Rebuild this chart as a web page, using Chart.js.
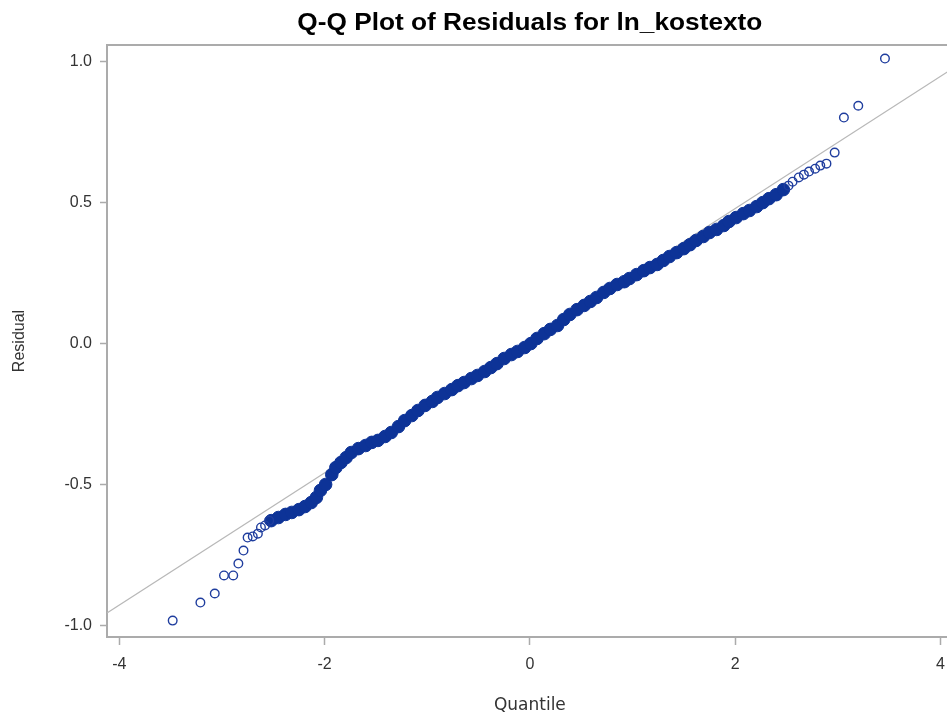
<!DOCTYPE html>
<html>
<head>
<meta charset="utf-8">
<script src="https://cdn.jsdelivr.net/npm/chart.js@4.4.1/dist/chart.umd.min.js"></script>
<style>
  html, body { margin: 0; padding: 0; background: #fff; overflow: hidden; }
  #wrap { width: 960px; height: 713px; }
</style>
</head>
<body>
<div id="wrap"><canvas id="qq"></canvas></div>
<script>
// normal quantiles and residuals, dense middle part of the sample
const bandQuantile = [
  -2.52, -2.45, -2.38, -2.32, -2.25, -2.19, -2.13, -2.08, -2.04, -1.99,
  -1.93, -1.89, -1.84, -1.79, -1.74, -1.67, -1.60, -1.54, -1.48, -1.41,
  -1.35, -1.28, -1.22, -1.15, -1.09, -1.02, -0.95, -0.90, -0.83, -0.76,
  -0.70, -0.64, -0.57, -0.51, -0.44, -0.38, -0.32, -0.25, -0.18, -0.12,
  -0.05, 0.01, 0.07, 0.14, 0.20, 0.27, 0.33, 0.39, 0.46, 0.53,
  0.59, 0.65, 0.72, 0.78, 0.85, 0.92, 0.97, 1.04, 1.11, 1.17,
  1.24, 1.30, 1.36, 1.43, 1.50, 1.56, 1.62, 1.69, 1.75, 1.82,
  1.89, 1.94, 2.01, 2.08, 2.14, 2.21, 2.27, 2.33, 2.40, 2.47
];
const bandResidual = [
  -0.627, -0.616, -0.605, -0.598, -0.588, -0.577, -0.563, -0.545, -0.520, -0.499,
  -0.464, -0.439, -0.421, -0.404, -0.386, -0.372, -0.361, -0.350, -0.343, -0.329,
  -0.315, -0.294, -0.273, -0.255, -0.237, -0.219, -0.205, -0.191, -0.177, -0.163,
  -0.149, -0.138, -0.124, -0.113, -0.099, -0.085, -0.071, -0.053, -0.039, -0.028,
  -0.014, 0.000, 0.018, 0.035, 0.050, 0.064, 0.085, 0.103, 0.120, 0.135,
  0.149, 0.163, 0.181, 0.195, 0.209, 0.219, 0.230, 0.244, 0.258, 0.269,
  0.280, 0.294, 0.308, 0.322, 0.336, 0.350, 0.365, 0.379, 0.393, 0.404,
  0.418, 0.432, 0.446, 0.460, 0.471, 0.485, 0.499, 0.513, 0.527, 0.545
];

// the sparse points at both ends
const tailQuantile = [
  -3.48, -3.21, -3.07, -2.98, -2.89, -2.84, -2.79, -2.75, -2.70, -2.65, -2.62, -2.58, -2.54,
  2.52, 2.56, 2.62, 2.67, 2.72, 2.78, 2.83, 2.89, 2.97, 3.06, 3.20, 3.46
];
const tailResidual = [
  -0.981, -0.917, -0.885, -0.821, -0.821, -0.779, -0.733, -0.687, -0.683, -0.673, -0.651, -0.644, -0.627,
  0.559, 0.573, 0.588, 0.598, 0.609, 0.619, 0.630, 0.637, 0.676, 0.800, 0.842, 1.009
];

// reference line end points
const lineQuantile = [-4.12, 4.12];
const lineResidual = [-0.954, 0.974];

const xTicks = [-4, -2, 0, 2, 4];
const yTicks = [-1.0, -0.5, 0.0, 0.5, 1.0];

const titleText = 'Q-Q Plot of Residuals for ln_kostexto';

const toPoints = (xs, ys) => xs.map((x, i) => ({ x: x, y: ys[i] }));

const blue = '#1f3d9e';
const frameGray = '#ababab';
const textColor = '#333333';

// box round the plot area
const framePlugin = {
  id: 'frame',
  beforeDatasetsDraw(chart) {
    const a = chart.chartArea;
    const ctx = chart.ctx;
    ctx.save();
    ctx.strokeStyle = frameGray;
    ctx.lineWidth = 2;
    ctx.strokeRect(a.left, a.top, a.right - a.left, a.bottom - a.top);
    ctx.restore();
  }
};

// title centred over the plot area, set a bit wide
const titlePlugin = {
  id: 'plotTitle',
  afterDraw(chart) {
    const a = chart.chartArea;
    const ctx = chart.ctx;
    ctx.save();
    ctx.font = 'bold 23px "Liberation Sans"';
    ctx.fillStyle = '#000';
    ctx.textAlign = 'center';
    ctx.textBaseline = 'middle';
    const w = ctx.measureText(titleText).width;
    ctx.translate((a.left + a.right) / 2, 23.5);
    ctx.scale(465 / w, 1);
    ctx.fillText(titleText, 0, 0);
    ctx.restore();
  }
};

new Chart(document.getElementById('qq'), {
  type: 'scatter',
  data: {
    datasets: [
      {
        type: 'line',
        data: toPoints(lineQuantile, lineResidual),
        borderColor: '#b8b8b8',
        borderWidth: 1.2,
        pointRadius: 0,
        fill: false,
        order: 3
      },
      {
        data: toPoints(bandQuantile, bandResidual),
        borderColor: '#0d3397',
        backgroundColor: '#0d3397',
        pointRadius: 6.3,
        borderWidth: 1,
        order: 2
      },
      {
        data: toPoints(tailQuantile, tailResidual),
        borderColor: blue,
        backgroundColor: 'rgba(0,0,0,0)',
        pointRadius: 4.3,
        borderWidth: 1.4,
        order: 1
      }
    ]
  },
  options: {
    responsive: true,
    maintainAspectRatio: false,
    animation: false,
    layout: { padding: { top: 45 } },
    plugins: {
      legend: { display: false },
      tooltip: { enabled: false },
      title: { display: false }
    },
    scales: {
      x: {
        type: 'linear',
        min: -4.12,
        max: 4.12,
        afterFit(s) { s.height = 76; },
        afterBuildTicks(s) { s.ticks = xTicks.map(v => ({ value: v })); },
        border: { display: false },
        grid: { drawOnChartArea: false, tickLength: 8, tickColor: frameGray, tickWidth: 1.5 },
        ticks: {
          padding: 10,
          color: textColor,
          font: { family: 'Liberation Sans', size: 16 },
          callback: v => String(v)
        },
        title: {
          display: true,
          text: 'Quantile',
          color: textColor,
          font: { family: 'DejaVu Sans', size: 17 },
          padding: { top: 0, bottom: -3 }
        }
      },
      y: {
        type: 'linear',
        min: -1.039,
        max: 1.057,
        afterFit(s) { s.width = 107; },
        afterBuildTicks(s) { s.ticks = yTicks.map(v => ({ value: v })); },
        border: { display: false },
        grid: { drawOnChartArea: false, tickLength: 7, tickColor: frameGray, tickWidth: 1.5 },
        ticks: {
          padding: 8,
          color: textColor,
          font: { family: 'Liberation Sans', size: 16 },
          callback: v => v.toFixed(1)
        },
        title: {
          display: true,
          text: 'Residual',
          color: textColor,
          font: { family: 'Liberation Sans', size: 16 },
          padding: { top: 10, bottom: 0 }
        }
      }
    }
  },
  plugins: [framePlugin, titlePlugin]
});
</script>
</body>
</html>
